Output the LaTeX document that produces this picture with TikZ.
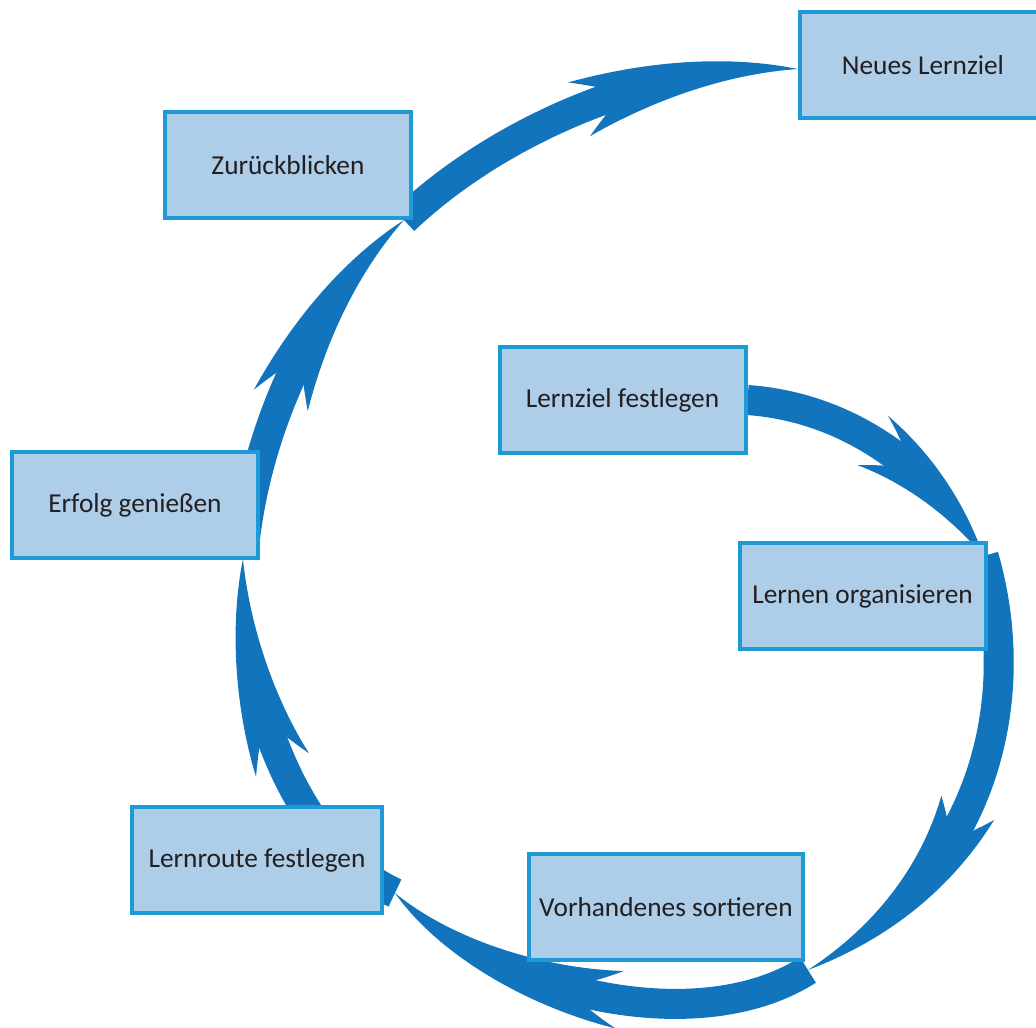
\documentclass[tikz,border=0pt]{standalone}
\usepackage{fontspec}
\setmainfont{Carlito}
\usetikzlibrary{arrows.meta,bending,calc,positioning,backgrounds}

\definecolor{swooshblue}{HTML}{1174BC}
\definecolor{boxfill}{HTML}{ADCDE9}
\definecolor{boxline}{HTML}{1E9BD7}
\definecolor{boxtext}{HTML}{231F20}

\begin{document}
\begin{tikzpicture}[%
x=0.75pt,
y=-0.75pt,
on grid,
stage/.style={draw=boxline, line width=3pt, fill=boxfill, text=boxtext,
  minimum width=184.5pt, minimum height=79.5pt, inner sep=0pt,
  font=\fontsize{20.5}{24}\selectfont},
swoosh/.style={draw=swooshblue, line width=22.5pt,
  -{Stealth[length=#1, width=43.5pt, inset=33.75pt, line width=0pt, bend]}},
swoosh/.default=161pt
]

\useasboundingbox (0,0) rectangle (1036,1028);

\node[stage] (ziel) at (622.5,400) {Lernziel festlegen};
\node[stage] (org) [below right=147pt and 180pt of ziel] {Lernen organisieren};
\node[stage, minimum width=205.5pt] (vorh) [below left=233.25pt and 147.4pt of org] {Vorhandenes sortieren};
\node[stage, minimum width=187.5pt] (route) [above left=35.25pt and 306.75pt of vorh] {Lernroute festlegen};
\node[stage] (erfolg) [above left=266.25pt and 91.5pt of route] {Erfolg genießen};
\node[stage] (zurueck) [above right=255pt and 114.75pt of erfolg] {Zurückblicken};
\node[stage] (neues) [above right=75pt and 476.25pt of zurueck] {Neues Lernziel};

\begin{scope}[on background layer]
\draw[swoosh=116pt] (ziel.east) .. controls +(110,8) and +(-45,-78) .. ($(org.north east)+(-4,15)$);
\draw[swoosh=198pt] ($(org.north east)+(-4,15)$) .. controls +(42,144) and +(177,-90) .. ($(vorh.south east)+(3,8)$);
\draw[swoosh] ($(vorh.south east)+(3,8)$) .. controls +(-118,75) and +(85,92) .. ($(route.south east)+(11,-22)$);
\draw[swoosh=146pt] ($(route.south east)+(11,-22)$) .. controls +(-105,-48) and +(-6,120) .. ($(erfolg.south east)+(-17,-1)$);
\draw[swoosh=158pt] ($(erfolg.south east)+(-17,-1)$) .. controls +(9,-120) and +(-93,80) .. ($(zurueck.south east)+(-9,0)$);
\draw[swoosh] ($(zurueck.south east)+(-9,0)$) .. controls +(97,-92) and +(-138,-9) .. ($(neues.west)+(0,4)$);
\end{scope}

\end{tikzpicture}
\end{document}
